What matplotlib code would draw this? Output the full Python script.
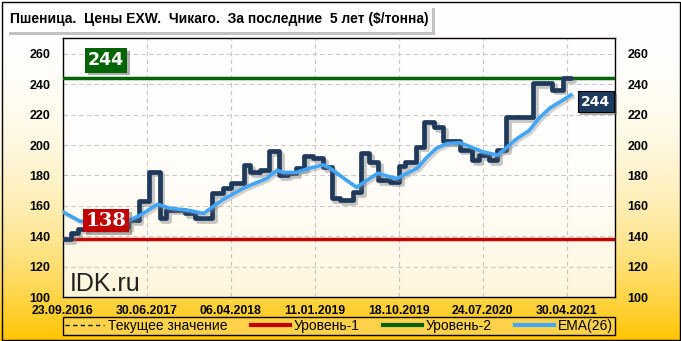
import matplotlib
matplotlib.use('Agg')

import numpy as np
from matplotlib import pyplot as plt
from matplotlib import patheffects as pe
from matplotlib.patches import Rectangle
from matplotlib.lines import Line2D

# data (weekly index from 23.09.2016)
dates = ['23.09.2016', '30.06.2017', '06.04.2018', '11.01.2019', '18.10.2019', '24.07.2020', '30.04.2021']
date_pos = [0, 40, 80, 120, 160, 200, 240]

price_start = [0, 4, 7, 11, 31, 36, 41, 46, 49, 58,
               63, 71, 76, 80, 86, 89, 94, 98, 103, 107,
               111, 115, 119, 124, 128, 132, 138, 142, 146, 150,
               156, 160, 163, 168, 172, 177, 181, 189, 195, 198,
               203, 207, 211, 224, 233, 238, 242]
price_val = [138, 142, 145, 146, 150.5, 163, 182.5, 152, 157.5, 155,
             152, 168.5, 172, 175, 187, 182, 183.5, 196, 180, 181.5,
             185, 193, 191.5, 185.5, 165, 164, 169, 194.5, 189, 177,
             176, 186, 189, 199, 215.5, 212, 202.5, 197, 190, 193.5,
             190, 197, 218.5, 241, 236.5, 244, 244]

ema_week = [0, 8, 18, 30, 37, 45, 51, 60, 67, 76,
            86, 97, 102, 105, 111, 118, 124, 127, 132, 137,
            140, 145, 150, 154, 159, 164, 169, 173, 178, 183,
            189, 194, 200, 207, 211, 216, 222, 227, 232, 237, 242]
ema_val = [156, 150, 148, 149.5, 154, 161, 158.5, 157, 155, 164,
           171.7, 178, 183.5, 182, 182, 185, 187, 185, 180, 175,
           172.3, 177, 181.5, 179.8, 178, 181.5, 185, 191.5, 198, 201,
           201.6, 199, 195.6, 193.4, 198, 204, 209.5, 218, 224.4, 228.6, 233]

level1 = 138
level2 = 244
current = 244

narrow = ['Liberation Sans Narrow', 'DejaVu Sans Condensed', 'Liberation Sans']

W, H = 681, 341
fig = plt.figure(figsize=(W / 100, H / 100), dpi=100)

# figure background gradient (white -> gold)
bg = fig.add_axes([0, 0, 1, 1], zorder=-10)
t = np.linspace(0, 1, 256)[:, None]
f = t ** 2.4
white = np.array([1.0, 1.0, 1.0])
gold = np.array([1.0, 0.77, 0.0])
grad = (white * (1 - f) + gold * f)[:, None, :].reshape(256, 1, 3)
bg.imshow(grad, aspect='auto', extent=[0, 1, 0, 1])
bg.set_axis_off()

ax = fig.add_axes([63 / W, 1 - 297 / H, 552 / W, 259 / H])
ax.set_xlim(0, 263)
ax.set_ylim(100, 270.5)

# plot area gradient
t2 = np.linspace(0, 1, 128)[:, None]
f2 = t2 ** 3
cream = np.array([1.0, 0.96, 0.85])
grad2 = (white * (1 - f2) + cream * f2)[:, None, :].reshape(128, 1, 3)
ax.imshow(grad2, aspect='auto', extent=[0, 263, 100, 270.5], zorder=0)

ax.grid(True, color='#c8c8c8', ls=(0, (4, 3)), lw=0.8, zorder=1)
ax.set_xticks(date_pos, dates)
ax.set_yticks(range(100, 261, 20))
ax.tick_params(length=0, labelright=True, labelsize=9)
ax.tick_params(axis='y', pad=9)
ax.tick_params(axis='x', pad=6, labelsize=8.8)
for lab in ax.get_xticklabels() + ax.get_yticklabels():
    lab.set_fontweight('bold')
    lab.set_family('Liberation Sans')
for s in ax.spines.values():
    s.set_linewidth(1)

ax.axhline(current, color='black', ls=(0, (3, 3)), lw=1, zorder=2)
ax.axhline(level1, color='#C00000', lw=2.5, zorder=3)
ax.axhline(level2, color='#006400', lw=2.5, zorder=3)

ax.step(price_start, price_val, where='post', color='#203A5C', lw=3.4,
        solid_joinstyle='round', solid_capstyle='round', zorder=4,
        path_effects=[pe.SimpleLineShadow(offset=(2, -2), shadow_color='#808080', alpha=0.45), pe.Normal()])
ax.plot(ema_week, ema_val, color='#42A5F5', lw=2.6, solid_joinstyle='round', zorder=5,
        path_effects=[pe.SimpleLineShadow(offset=(1.5, -1.5), shadow_color='#808080', alpha=0.35), pe.Normal()])

shadow = [pe.SimplePatchShadow(offset=(2, -2), shadow_rgbFace='#606060', alpha=0.5), pe.Normal()]
t1 = ax.text(20.5, 150.2, '138', color='white', fontsize=14, fontweight='bold', family='DejaVu Serif',
             ha='center', va='center', zorder=6,
             bbox=dict(boxstyle='square,pad=0.12', fc='#C00000', ec='none'))
t1.get_bbox_patch().set_path_effects(shadow)
t2_ = ax.text(20.5, 255.7, '244', color='white', fontsize=12.5, fontweight='bold', family='DejaVu Sans',
              ha='center', va='center', zorder=6,
              bbox=dict(boxstyle='square,pad=0.18', fc='#006400', ec='none'))
t2_.get_bbox_patch().set_path_effects(shadow)
t3 = ax.text(253.8, 228.4, '244', color='white', fontsize=10, fontweight='bold', family='DejaVu Sans',
             ha='center', va='center', zorder=6, clip_on=False,
             bbox=dict(boxstyle='square,pad=0.25', fc='#1F3A5F', ec='black', lw=0.8))
t3.get_bbox_patch().set_path_effects(shadow)

ax.text(3, 104, 'IDK.ru', fontsize=18, color='#222222', family='Liberation Sans', zorder=6)

# title box with shadow
fig.patches.append(Rectangle((9 / W, 1 - 35 / H), 426 / W, 27 / H, transform=fig.transFigure,
                             fc='#9a9a9a', ec='none', alpha=0.6, zorder=1))
fig.patches.append(Rectangle((6 / W, 1 - 32 / H), 426 / W, 27 / H, transform=fig.transFigure,
                             fc='white', ec='none', zorder=2))
fig.text(10 / W, 1 - 18.5 / H, 'Пшеница.  Цены EXW.  Чикаго.  За последние  5 лет ($/тонна)',
         fontsize=10, fontweight='bold', family=narrow, va='center', ha='left', zorder=3)

# legend
handles = [Line2D([], [], color='black', ls=(0, (3, 2.5)), lw=1),
           Line2D([], [], color='#C00000', lw=3),
           Line2D([], [], color='#006400', lw=3),
           Line2D([], [], color='#42A5F5', lw=3)]
labels = ['Текущее значение', 'Уровень-1', 'Уровень-2', 'EMA(26)']
leg = fig.legend(handles, labels, ncol=4, loc='lower left', mode='expand',
                 bbox_to_anchor=(63 / W, 1 - 335 / H, 552 / W, 14 / H), borderaxespad=0,
                 prop={'family': narrow, 'size': 10}, frameon=True, fancybox=False,
                 edgecolor='black', facecolor='#FFD24A', framealpha=1,
                 handlelength=2.8, handletextpad=0.3, borderpad=0.15, columnspacing=1.5)
leg.get_frame().set_linewidth(1)

# outer border
fig.patches.append(Rectangle((1.5 / W, 1.5 / H), (W - 3) / W, (H - 3) / H, transform=fig.transFigure,
                             fill=False, ec='black', lw=1, zorder=5))

plt.savefig('out.png', dpi=100)
